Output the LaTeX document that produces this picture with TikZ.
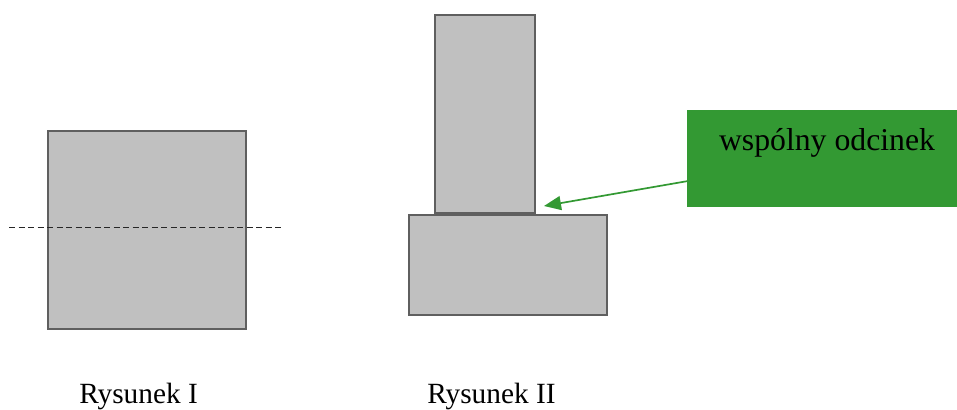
\documentclass[tikz,border=0pt]{standalone}
\usepackage{fontspec}
\setmainfont{Liberation Serif}
\usetikzlibrary{arrows.meta,calc}
\definecolor{boxgray}{HTML}{C0C0C0}
\definecolor{boxedge}{HTML}{5F5F5F}
\definecolor{greenbox}{HTML}{339933}
\tikzset{
  graybox/.style={draw=boxedge, fill=boxgray, line width=2.2pt*0.75, inner sep=0pt, anchor=north west, rectangle},
  label/.style={inner sep=0pt, anchor=base west, font=\fontsize{22}{26}\selectfont},
}
\begin{document}
\begin{tikzpicture}[x=0.75pt,y=-0.75pt]
\useasboundingbox (0,0) rectangle (957,410);
% Rysunek I
\node[graybox, minimum width=198*0.75pt, minimum height=198*0.75pt] (sq) at (47,130) {};
\coordinate (dl) at (9,227.5);
\coordinate (dr) at (283,227.5);
\draw[black!85, line width=1.1pt*0.75, dash pattern=on 6*0.75pt off 3.5*0.75pt] (dl) -- (dr);
\node[label] (l1) at (79,403) {Rysunek I};
% Rysunek II
\node[graybox, minimum width=100*0.75pt, minimum height=198*0.75pt] (tall) at (434,14) {};
\node[graybox, minimum width=198*0.75pt, minimum height=100*0.75pt] (wide) at (408,214) {};
\node[label] (l2) at (427,403) {Rysunek II};
% green box
\node[fill=greenbox, inner sep=0pt, anchor=north west, minimum width=271*0.75pt, minimum height=97*0.75pt] (g) at (687,110) {};
\node[inner sep=0pt, anchor=base, font=\fontsize{23.8}{28}\selectfont] (gt) at (827,150) {wspólny odcinek};
\coordinate (gs) at ($(g.south west)!0.27!(g.north west)$);
\coordinate (tip) at (544,206);
\draw[greenbox, line width=1.7pt*0.75, -{Triangle[length=17*0.75pt, width=14*0.75pt]}] (gs) -- (tip);
\end{tikzpicture}
\end{document}
